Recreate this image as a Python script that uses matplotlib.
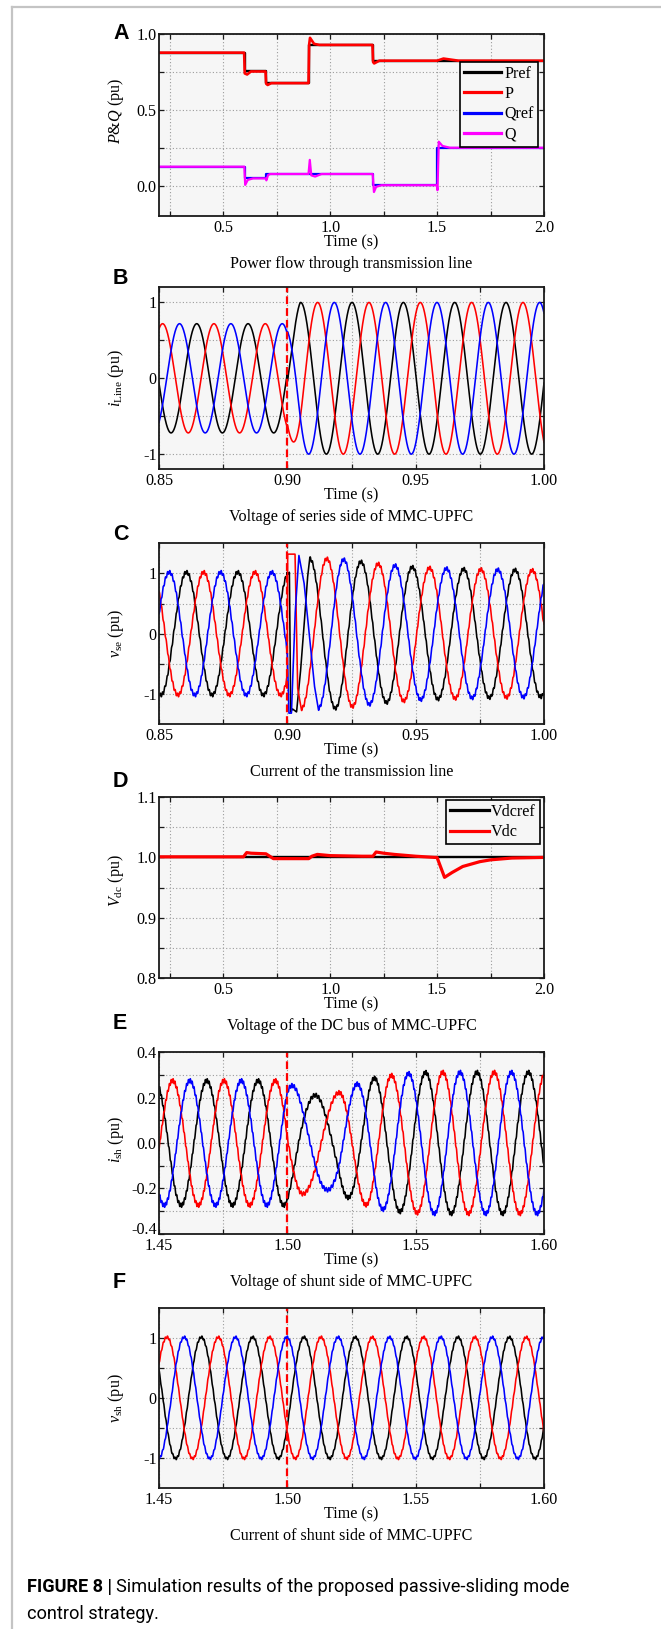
import numpy as np
import matplotlib
matplotlib.use("Agg")
import matplotlib.pyplot as plt
from matplotlib.lines import Line2D

plt.rcParams.update({
    "font.family": ["Liberation Serif", "DejaVu Serif"],
    "mathtext.fontset": "custom",
    "mathtext.rm": "Liberation Serif",
    "mathtext.it": "Liberation Serif:italic",
    "mathtext.bf": "Liberation Serif:bold",
    "axes.unicode_minus": False,
})

# ======================= DATA =======================
# ---- Panel A: power flow (vertices) ----
pref_t = [0.2, 0.6, 0.6, 0.7, 0.7, 0.9, 0.9, 1.2, 1.2, 2.0]
pref_v = [0.877, 0.877, 0.753, 0.753, 0.676, 0.676, 0.930, 0.930, 0.824, 0.824]
p_t = [0.2, 0.598, 0.601, 0.612, 0.63, 0.698, 0.701, 0.708, 0.725, 0.899, 0.902, 0.906,
       0.925, 0.95, 1.198, 1.201, 1.206, 1.23, 1.50, 1.53, 1.56, 1.60, 2.0]
p_v = [0.877, 0.877, 0.740, 0.733, 0.753, 0.753, 0.672, 0.664, 0.676, 0.676, 0.930, 0.975,
       0.935, 0.928, 0.928, 0.815, 0.806, 0.824, 0.824, 0.838, 0.832, 0.824, 0.824]
qref_t = [0.2, 0.6, 0.6, 0.7, 0.7, 1.2, 1.2, 1.5, 1.5, 2.0]
qref_v = [0.125, 0.125, 0.048, 0.048, 0.077, 0.077, 0.003, 0.003, 0.250, 0.250]
q_t = [0.2, 0.599, 0.603, 0.615, 0.64, 0.699, 0.702, 0.71, 0.72, 0.899, 0.905, 0.912,
       0.93, 0.96, 1.199, 1.205, 1.215, 1.24, 1.499, 1.502, 1.508, 1.525, 1.56, 2.0]
q_v = [0.125, 0.125, 0.005, 0.038, 0.048, 0.048, 0.035, 0.070, 0.077, 0.077, 0.170, 0.068,
       0.060, 0.077, 0.077, -0.042, -0.008, 0.003, 0.003, -0.030, 0.290, 0.262, 0.250, 0.250]
a_xticks = [0.5, 1.0, 1.5, 2.0]
a_xticklabels = ["0.5", "1.0", "1.5", "2.0"]
a_yticks = [0.0, 0.5, 1.0]
a_yticklabels = ["0.0", "0.5", "1.0"]

# ---- three-phase waveforms: 50 Hz, phase order black, red, blue ----
f_grid = 50.0
phase_colors = ["black", "red", "blue"]

# Panel B: line current (peak times of each phase, amplitude envelope)
b_step = 0.90
b_peak_before = [0.8847, 0.8914, 0.8980]
b_peak_after = [0.9052, 0.9118, 0.9183]
b_amp_t = [0.85, 0.900, 0.905, 1.00]
b_amp_v = [0.72, 0.72, 1.00, 1.00]

# Panel C: series voltage
c_step = 0.90
c_peak_before = [0.8607, 0.8674, 0.8540]
c_peak_after = [0.9087, 0.9154, 0.9220]
c_amp_before = 1.02
c_env_t = [0.900, 0.905, 0.920, 0.935, 0.950, 0.970, 1.000]
c_env_v = [1.25, 1.25, 1.24, 1.16, 1.10, 1.07, 1.05]
c_ripple = 0.03
c_trans_t = [[0.9000, 0.9008, 0.9013, 0.9020, 0.9036, 0.9050, 0.9063, 0.9078, 0.9087],
             [0.9000, 0.9001, 0.9030, 0.9040, 0.9054],
             [0.9000, 0.9006, 0.9016, 0.9030, 0.9045, 0.9065, 0.9085, 0.9105, 0.9120]]
c_trans_v = [[0.98, 1.02, -1.30, -1.25, -1.30, -0.70, 0.00, 0.90, 1.25],
             [-0.68, 1.32, 1.32, -0.90, -1.25],
             [-0.31, -1.32, -1.32, 0.30, 1.30, 0.85, 0.00, -0.85, -1.24]]

bc_xticks = [0.85, 0.90, 0.95, 1.00]
bc_xticklabels = ["0.85", "0.90", "0.95", "1.00"]
pm1_yticks = [-1, 0, 1]
pm1_yticklabels = ["-1", "0", "1"]

# Panel D: DC bus voltage
vdcref_t = [0.2, 2.0]
vdcref_v = [1.0, 1.0]
vdc_t = [0.2, 0.595, 0.61, 0.63, 0.70, 0.735, 0.90, 0.915, 0.94, 1.0, 1.15, 1.20, 1.215,
         1.25, 1.30, 1.40, 1.49, 1.50, 1.535, 1.57, 1.62, 1.70, 1.75, 1.85, 2.0]
vdc_v = [1.001, 1.001, 1.008, 1.007, 1.006, 0.998, 0.998, 1.002, 1.005, 1.003, 1.002, 1.002,
         1.009, 1.007, 1.005, 1.002, 1.000, 1.000, 0.967, 0.975, 0.985, 0.993, 0.996, 0.999, 1.000]
d_yticks = [0.8, 0.9, 1.0, 1.1]
d_yticklabels = ["0.8", "0.9", "1.0", "1.1"]

# Panel E: shunt current
e_step = 1.50
e_peak = [1.4686, 1.4553, 1.4620]
e_env_t = [1.45, 1.500, 1.503, 1.508, 1.515, 1.520, 1.527, 1.535, 1.545, 1.555, 1.60]
e_env_v = [0.275, 0.275, 0.245, 0.215, 0.205, 0.222, 0.260, 0.290, 0.305, 0.312, 0.312]
e_delay_t = [1.45, 1.500, 1.505, 1.511, 1.515, 1.520, 1.530, 1.60]
e_delay_v = [0.0, 0.0, 0.0009, 0.0024, 0.0033, 0.0046, 0.0052, 0.0053]
e_ripple = 0.009
e_yticks = [-0.4, -0.2, 0.0, 0.2, 0.4]
e_yticklabels = ["-0.4", "-0.2", "0.0", "0.2", "0.4"]

# Panel F: shunt voltage
f_step = 1.50
f_peak = [1.4665, 1.4531, 1.4598]
f_amp = 1.01
f_ripple = 0.02
ef_xticks = [1.45, 1.50, 1.55, 1.60]
ef_xticklabels = ["1.45", "1.50", "1.55", "1.60"]

# ======================= LAYOUT / STYLE =======================
W, H, DPI = 661, 1629, 100
FS = 11.6
AX_L, AX_R = 159.0, 544.0
boxes = {"A": (34.0, 216.0), "B": (287.3, 469.3), "C": (543.3, 724.0),
         "D": (797.0, 978.3), "E": (1052.3, 1233.7), "F": (1307.7, 1488.0)}
BG = "#f6f6f6"


def fx(x):
    return x / W


def fy(y):
    return 1 - y / H


fig = plt.figure(figsize=(W / DPI, H / DPI), dpi=DPI)

# light gray frame
fig.add_artist(Line2D([fx(11.8), fx(11.8)], [fy(6.7), 0], color="#c4c4c4", lw=1.6))
fig.add_artist(Line2D([fx(11.8), 1.0], [fy(6.7), fy(6.7)], color="#c4c4c4", lw=1.6))


def make_axes(key):
    top, bot = boxes[key]
    ax = fig.add_axes([fx(AX_L), fy(bot), (AX_R - AX_L) / W, (bot - top) / H])
    ax.set_facecolor(BG)
    for s in ax.spines.values():
        s.set_linewidth(1.3)
        s.set_color("#1a1a1a")
    ax.tick_params(which="both", direction="in", top=True, right=True,
                   length=3.5, width=0.9, labelsize=FS, color="#1a1a1a")
    ax.tick_params(axis="x", which="major", pad=3.0)
    ax.tick_params(axis="y", which="major", pad=1.8)
    ax.grid(which="both", linestyle=(0, (1, 2)), color="#9c9c9c", linewidth=0.8)
    ax.set_axisbelow(True)
    return ax


def decorate(ax, key, xt, xtl, xminor, yt, ytl, yminor, ylab, ylab_y=0.5, caption=""):
    top, bot = boxes[key]
    ax.set_xticks(xt)
    ax.set_xticklabels(xtl)
    ax.set_xticks(xminor, minor=True)
    ax.set_yticks(yt)
    ax.set_yticklabels(ytl)
    ax.set_yticks(yminor, minor=True)
    ax.set_ylabel(ylab, fontsize=FS)
    ax.yaxis.set_label_coords((125.5 - AX_L) / (AX_R - AX_L), ylab_y)
    cx = (AX_L + AX_R) / 2
    fig.text(fx(cx), fy(bot + 26.5), "Time (s)", ha="center", va="center", fontsize=FS)
    fig.text(fx(cx), fy(bot + 48.0), caption, ha="center", va="center", fontsize=FS)


def panel_letter(letter, yc):
    fig.text(fx(113), fy(yc), letter, ha="left", va="center", fontsize=15.5,
             fontweight="bold", family=["Liberation Sans", "DejaVu Sans"])


# ---------------- Panel A ----------------
ax = make_axes("A")
ax.plot(pref_t, pref_v, color="black", lw=1.7, label="Pref")
ax.plot(p_t, p_v, color="red", lw=1.9, label="P")
ax.plot(qref_t, qref_v, color="blue", lw=1.6, label="Qref")
ax.plot(q_t, q_v, color="magenta", lw=1.6, label="Q")
ax.set_xlim(0.2, 2.0)
ax.set_ylim(-0.2, 1.0)
decorate(ax, "A", a_xticks, a_xticklabels, [0.25, 0.75, 1.25, 1.75],
         a_yticks, a_yticklabels, [0.25, 0.75], r"$P$&$Q$ (pu)", ylab_y=0.575,
         caption="Power flow through transmission line")
leg = ax.legend(loc="upper right", bbox_to_anchor=((537.7 - AX_L) / (AX_R - AX_L), 1 - (61.7 - 34.0) / 182.0),
                borderaxespad=0, fontsize=FS, handlelength=2.35, handletextpad=0.18,
                labelspacing=0.27, borderpad=0.25, fancybox=False, framealpha=1,
                facecolor=BG, edgecolor="black")
leg.get_frame().set_linewidth(1.2)
for h in leg.legend_handles:
    h.set_linewidth(2.3)
panel_letter("A", 33.5)

# ---------------- Panel B ----------------
ax = make_axes("B")
t = np.linspace(0.85, 1.0, 3000)
amp = np.interp(t, b_amp_t, b_amp_v)
for k, col in enumerate(phase_colors):
    pk = np.where(t < b_step, b_peak_before[k], b_peak_after[k])
    ax.plot(t, amp * np.cos(2 * np.pi * f_grid * (t - pk)), color=col, lw=1.15)
ax.axvline(b_step, color="red", lw=1.6, linestyle=(0, (3.5, 1.8)))
ax.set_xlim(0.85, 1.0)
ax.set_ylim(-1.2, 1.2)
decorate(ax, "B", bc_xticks, bc_xticklabels, [0.875, 0.925, 0.975],
         pm1_yticks, pm1_yticklabels, [-0.5, 0.5], r"$i_{\rm Line}$ (pu)",
         caption="Voltage of series side of MMC-UPFC")
panel_letter("B", 278.5)

# ---------------- Panel C ----------------
ax = make_axes("C")
t = np.linspace(0.85, 1.0, 6000)
amp = np.where(t < c_step, c_amp_before, np.interp(t, c_env_t, c_env_v))
for k, col in enumerate(phase_colors):
    pk = np.where(t < c_step, c_peak_before[k], c_peak_after[k])
    y = amp * np.cos(2 * np.pi * f_grid * (t - pk)) + c_ripple * np.sin(2 * np.pi * f_grid * 23 * (t - pk))
    m = (t >= c_trans_t[k][0]) & (t <= c_trans_t[k][-1])
    y[m] = np.interp(t[m], c_trans_t[k], c_trans_v[k])
    ax.plot(t, y, color=col, lw=1.15)
ax.axvline(c_step, color="red", lw=1.6, linestyle=(0, (3.5, 1.8)))
ax.set_xlim(0.85, 1.0)
ax.set_ylim(-1.5, 1.5)
decorate(ax, "C", bc_xticks, bc_xticklabels, [0.875, 0.925, 0.975],
         pm1_yticks, pm1_yticklabels, [-0.5, 0.5], r"$v_{\rm se}$ (pu)",
         caption="Current of the transmission line")
panel_letter("C", 535)

# ---------------- Panel D ----------------
ax = make_axes("D")
ax.plot(vdcref_t, vdcref_v, color="black", lw=1.7, label="Vdcref")
ax.plot(vdc_t, vdc_v, color="red", lw=2.3, label="Vdc")
ax.set_xlim(0.2, 2.0)
ax.set_ylim(0.8, 1.1)
decorate(ax, "D", a_xticks, a_xticklabels, [0.25, 0.75, 1.25, 1.75],
         d_yticks, d_yticklabels, [0.85, 0.95, 1.05], r"$V_{\rm dc}$ (pu)", ylab_y=0.54,
         caption="Voltage of the DC bus of MMC-UPFC")
leg = ax.legend(loc="upper right", bbox_to_anchor=((540 - AX_L) / (AX_R - AX_L), 1 - (800 - 797) / 181.3),
                borderaxespad=0, fontsize=FS, handlelength=2.4, handletextpad=0.15,
                labelspacing=0.27, borderpad=0.25, fancybox=False, framealpha=1,
                facecolor=BG, edgecolor="black")
leg.get_frame().set_linewidth(1.2)
for h in leg.legend_handles:
    h.set_linewidth(2.3)
panel_letter("D", 781.7)

# ---------------- Panel E ----------------
ax = make_axes("E")
t = np.linspace(1.45, 1.60, 6000)
amp = np.interp(t, e_env_t, e_env_v)
delay = np.interp(t, e_delay_t, e_delay_v)
for k, col in enumerate(phase_colors):
    tt = t - delay - e_peak[k]
    y = amp * np.cos(2 * np.pi * f_grid * tt) + e_ripple * np.sin(2 * np.pi * f_grid * 27 * tt)
    ax.plot(t, y, color=col, lw=1.15)
ax.axvline(e_step, color="red", lw=1.6, linestyle=(0, (3.5, 1.8)))
ax.set_xlim(1.45, 1.60)
ax.set_ylim(-0.4, 0.4)
decorate(ax, "E", ef_xticks, ef_xticklabels, [1.475, 1.525, 1.575],
         e_yticks, e_yticklabels, [-0.3, -0.1, 0.1, 0.3], r"$i_{\rm sh}$ (pu)", ylab_y=0.52,
         caption="Voltage of shunt side of MMC-UPFC")
# lift the lowest y label slightly so it clears the first x label
ax.yaxis.get_major_ticks()[0].label1.set_va("baseline")
panel_letter("E", 1023.7)

# ---------------- Panel F ----------------
ax = make_axes("F")
t = np.linspace(1.45, 1.60, 6000)
for k, col in enumerate(phase_colors):
    tt = t - f_peak[k]
    y = f_amp * np.cos(2 * np.pi * f_grid * tt) + f_ripple * np.sin(2 * np.pi * f_grid * 23 * tt)
    ax.plot(t, y, color=col, lw=1.15)
ax.axvline(f_step, color="red", lw=1.6, linestyle=(0, (3.5, 1.8)))
ax.set_xlim(1.45, 1.60)
ax.set_ylim(-1.5, 1.5)
decorate(ax, "F", ef_xticks, ef_xticklabels, [1.475, 1.525, 1.575],
         pm1_yticks, pm1_yticklabels, [-0.5, 0.5], r"$v_{\rm sh}$ (pu)",
         caption="Current of shunt side of MMC-UPFC")
panel_letter("F", 1283)

# ---------------- figure caption ----------------
CAP_FS = 13.1
r = fig.canvas.get_renderer()
t1 = fig.text(fx(27), fy(1587), "FIGURE 8 |", fontsize=CAP_FS, fontweight="bold",
              family=["Roboto", "DejaVu Sans"], ha="left", va="center")
bb = t1.get_window_extent(renderer=r)
fig.text((bb.x1 + 4.5) / W, fy(1587), "Simulation results of the proposed passive-sliding mode",
         fontsize=CAP_FS, family=["Roboto", "DejaVu Sans"], ha="left", va="center")
fig.text(fx(27), fy(1614), "control strategy.", fontsize=CAP_FS,
         family=["Roboto", "DejaVu Sans"], ha="left", va="center")

fig.savefig("out.png", dpi=DPI)
